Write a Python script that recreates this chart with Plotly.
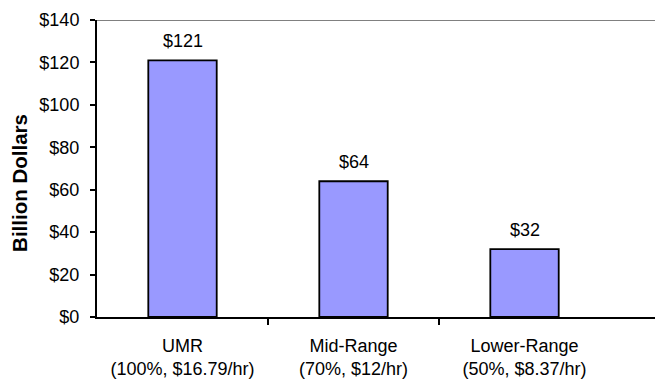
import plotly.graph_objects as go

# Wage-scenario totals (billion dollars)
categories = ["UMR<br>(100%, $16.79/hr)", "Mid-Range<br>(70%, $12/hr)", "Lower-Range<br>(50%, $8.37/hr)"]
values = [121, 64, 32]
value_labels = ["$121", "$64", "$32"]
y_ticks = [0, 20, 40, 60, 80, 100, 120, 140]
y_tick_text = ["$0", "$20", "$40", "$60", "$80", "$100", "$120", "$140"]

positions = list(range(len(categories)))
font = dict(family="Liberation Sans, Arial, sans-serif", size=18, color="black")

fig = go.Figure(
    go.Bar(
        x=positions,
        y=values,
        width=0.4,
        marker=dict(color="#9999FF", line=dict(color="black", width=1.8)),
    )
)

# value labels sitting above each bar
for p, v, t in zip(positions, values, value_labels):
    fig.add_annotation(x=p, y=v, text=t, showarrow=False, yanchor="bottom",
                       yshift=7, font=font)

# vertical axis title
fig.add_annotation(x=-0.139, y=0.453, xref="paper", yref="paper",
                   text="<b>Billion Dollars</b>", textangle=-90, showarrow=False,
                   xanchor="center", yanchor="middle",
                   font=dict(family=font["family"], size=20.5, color="black"))

fig.update_layout(
    width=655,
    height=383,
    margin=dict(l=97, r=0, t=20, b=66),
    plot_bgcolor="white",
    paper_bgcolor="white",
    font=font,
    showlegend=False,
    xaxis=dict(
        range=[-0.5, 2.763],
        tickvals=positions,
        ticktext=categories,
        ticks="",
        ticklabelstandoff=11,
        showgrid=False,
        zeroline=False,
        showline=True,
        linecolor="black",
        linewidth=2,
        minor=dict(tickvals=[0.5, 1.5], ticks="outside", ticklen=6, tickwidth=2, tickcolor="black", showgrid=False),
    ),
    yaxis=dict(
        range=[0, 140],
        tickvals=y_ticks,
        ticktext=y_tick_text,
        ticks="outside",
        ticklen=5,
        tickwidth=2,
        tickcolor="black",
        ticklabelstandoff=7,
        showgrid=False,
        zeroline=False,
        showline=True,
        linecolor="black",
        linewidth=2,
    ),
    shapes=[
        dict(type="line", xref="paper", yref="y", x0=0, x1=1, y0=140, y1=140,
             line=dict(color="#808080", width=2), layer="below"),
    ],
)

fig.write_html("out.html")
